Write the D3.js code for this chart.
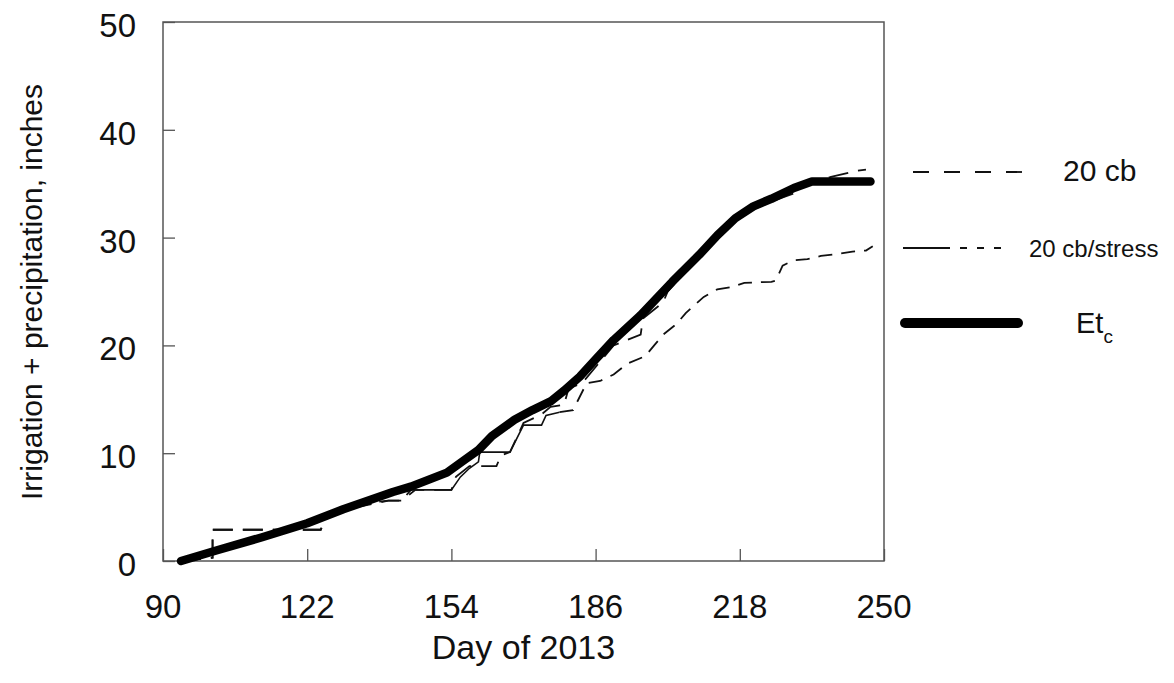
<!DOCTYPE html>
<html>
<head>
<meta charset="utf-8">
<script src="https://cdn.jsdelivr.net/npm/d3@7"></script>
<style>
  body { margin: 0; background: #fff; }
  text { font-family: "Liberation Sans", Arial, sans-serif; fill: #111; }
</style>
</head>
<body>
<div id="chart"></div>
<script>
// Et_c, cumulative crop evapotranspiration (inches)
var etcDays = [94, 102, 112, 122, 130, 141, 145, 153, 157, 160, 163, 168, 172, 176, 179, 182.5, 186, 190, 196, 203, 209, 213, 217, 221, 225, 230, 234, 247];
var etcValues = [0, 1.0, 2.2, 3.5, 4.8, 6.4, 6.9, 8.2, 9.4, 10.3, 11.6, 13.1, 14.0, 14.8, 15.8, 17.1, 18.7, 20.5, 22.8, 25.9, 28.4, 30.2, 31.8, 32.9, 33.6, 34.6, 35.2, 35.2];

// 20 cb treatment, irrigation + precipitation
var cbDays = [94, 101, 101, 125, 126, 129.5, 132, 133, 140, 143, 145, 154, 155, 158, 164, 165, 167, 170, 174, 176, 179, 180, 183, 186, 190, 196, 196.5, 201, 202, 208, 213, 218, 222, 226, 230, 234, 238, 244, 246];
var cbValues = [0, 0.3, 2.9, 2.9, 4.2, 5.0, 5.0, 5.3, 5.6, 5.6, 6.6, 6.6, 7.8, 8.8, 8.8, 9.8, 10.1, 12.8, 13.6, 14.3, 14.5, 16.0, 16.5, 18.0, 20.0, 21.0, 22.5, 24.0, 25.0, 27.8, 29.8, 32.0, 32.8, 33.5, 34.1, 35.3, 35.6, 36.2, 36.3];

// 20 cb/stress treatment
var stressDays = [94, 101, 101, 125, 127, 140, 143, 146, 154, 156, 158, 160, 160.3, 167, 170, 174, 175, 178, 181, 184, 187, 190, 193, 197, 199, 201, 204, 206, 210, 213, 216, 219, 225, 226, 227.5, 230, 233, 236, 240, 243, 246, 247.5];
var stressValues = [0, 0.3, 2.9, 2.9, 4.5, 5.6, 5.6, 6.6, 6.6, 7.8, 8.6, 9.2, 10.1, 10.1, 12.6, 12.6, 13.5, 13.8, 14.0, 16.5, 16.7, 17.3, 18.3, 19.0, 20.0, 21.0, 22.0, 23.0, 24.5, 25.2, 25.4, 25.8, 25.9, 26.0, 27.4, 27.9, 28.0, 28.3, 28.5, 28.7, 28.8, 29.2];
var stressSolidFrom = 146, stressDashFrom = 178;

var xTicks = [90, 122, 154, 186, 218, 250];
var yTicks = [0, 10, 20, 30, 40, 50];

var W = 1174, H = 683;
var margin = {top: 22, right: 290, bottom: 122, left: 163};
var width = W - margin.left - margin.right,
    height = H - margin.top - margin.bottom;

function pairs(days, vals) {
    return days.map(function (d, i) { return {day: d, val: vals[i]}; });
}

var etc = pairs(etcDays, etcValues),
    cb = pairs(cbDays, cbValues),
    stress = pairs(stressDays, stressValues);

var svg = d3.select("#chart").append("svg")
    .attr("width", W)
    .attr("height", H);

var g = svg.append("g")
    .attr("transform", "translate(" + margin.left + "," + margin.top + ")");

var x = d3.scaleLinear().domain([90, 250]).range([0, width]);
var y = d3.scaleLinear().domain([0, 50]).range([height, 0]);

var line = d3.line()
    .x(function (d) { return x(d.day); })
    .y(function (d) { return y(d.val); });

// frame
g.append("rect")
    .attr("width", width)
    .attr("height", height)
    .attr("fill", "none")
    .attr("stroke", "#555")
    .attr("stroke-width", 1.5);

// inward ticks
var xAxis = d3.axisTop(x).tickValues(xTicks).tickSize(12).tickFormat("");
g.append("g")
    .attr("transform", "translate(0," + height + ")")
    .call(xAxis)
    .call(function (s) { s.select(".domain").remove(); s.selectAll("line").attr("stroke", "#555").attr("stroke-width", 1.3); });

var yAxis = d3.axisRight(y).tickValues(yTicks).tickSize(12).tickFormat("");
g.append("g")
    .call(yAxis)
    .call(function (s) { s.select(".domain").remove(); s.selectAll("line").attr("stroke", "#555").attr("stroke-width", 1.3); });

// tick labels
g.selectAll(".xlab").data(xTicks).enter().append("text")
    .attr("class", "xlab")
    .attr("x", function (d) { return x(d); })
    .attr("y", height + 57)
    .attr("text-anchor", "middle")
    .style("font-size", "33px")
    .text(function (d) { return d; });

g.selectAll(".ylab").data(yTicks).enter().append("text")
    .attr("class", "ylab")
    .attr("x", -27)
    .attr("y", function (d) { return y(d) + 15; })
    .attr("text-anchor", "end")
    .style("font-size", "33px")
    .text(function (d) { return d; });

// axis titles
svg.append("text")
    .attr("x", margin.left + width / 2)
    .attr("y", 659)
    .attr("text-anchor", "middle")
    .style("font-size", "34px")
    .text("Day of 2013");

svg.append("text")
    .attr("transform", "translate(42,292) rotate(-90)")
    .attr("text-anchor", "middle")
    .style("font-size", "30px")
    .text("Irrigation + precipitation, inches");

// series
g.append("path")
    .datum(stress.filter(function (d) { return d.day <= stressSolidFrom; }))
    .attr("fill", "none")
    .attr("stroke", "#111")
    .attr("stroke-width", 1.8)
    .attr("stroke-dasharray", "20,10")
    .attr("d", line);

g.append("path")
    .datum(stress.filter(function (d) { return d.day >= stressSolidFrom && d.day <= stressDashFrom; }))
    .attr("fill", "none")
    .attr("stroke", "#111")
    .attr("stroke-width", 1.6)
    .attr("d", line);

g.append("path")
    .datum(stress.filter(function (d) { return d.day >= stressDashFrom; }))
    .attr("fill", "none")
    .attr("stroke", "#111")
    .attr("stroke-width", 1.8)
    .attr("stroke-dasharray", "14,9")
    .attr("d", line);

g.append("path")
    .datum(cb)
    .attr("fill", "none")
    .attr("stroke", "#111")
    .attr("stroke-width", 1.8)
    .attr("stroke-dasharray", "20,10")
    .attr("d", line);

g.append("path")
    .datum(etc)
    .attr("fill", "none")
    .attr("stroke", "#000")
    .attr("stroke-width", 8.5)
    .attr("stroke-linecap", "round")
    .attr("stroke-linejoin", "round")
    .attr("d", line);

// legend
var legend = svg.append("g");

legend.append("line")
    .attr("x1", 913).attr("x2", 1025).attr("y1", 172).attr("y2", 172)
    .attr("stroke", "#111").attr("stroke-width", 1.8)
    .attr("stroke-dasharray", "16,15");
legend.append("text")
    .attr("x", 1063).attr("y", 181)
    .style("font-size", "30px")
    .text("20 cb");

legend.append("line")
    .attr("x1", 903).attr("x2", 950).attr("y1", 248).attr("y2", 248)
    .attr("stroke", "#111").attr("stroke-width", 1.8);
legend.append("line")
    .attr("x1", 960).attr("x2", 1010).attr("y1", 248).attr("y2", 248)
    .attr("stroke", "#111").attr("stroke-width", 1.8)
    .attr("stroke-dasharray", "7,10");
legend.append("text")
    .attr("x", 1029).attr("y", 257)
    .style("font-size", "24px")
    .text("20 cb/stress");

legend.append("line")
    .attr("x1", 905).attr("x2", 1018).attr("y1", 323).attr("y2", 323)
    .attr("stroke", "#000").attr("stroke-width", 10)
    .attr("stroke-linecap", "round");
var et = legend.append("text")
    .attr("x", 1076).attr("y", 333)
    .style("font-size", "29px");
et.append("tspan").text("Et");
et.append("tspan").attr("dy", 10).style("font-size", "19px").text("c");
</script>
</body>
</html>
